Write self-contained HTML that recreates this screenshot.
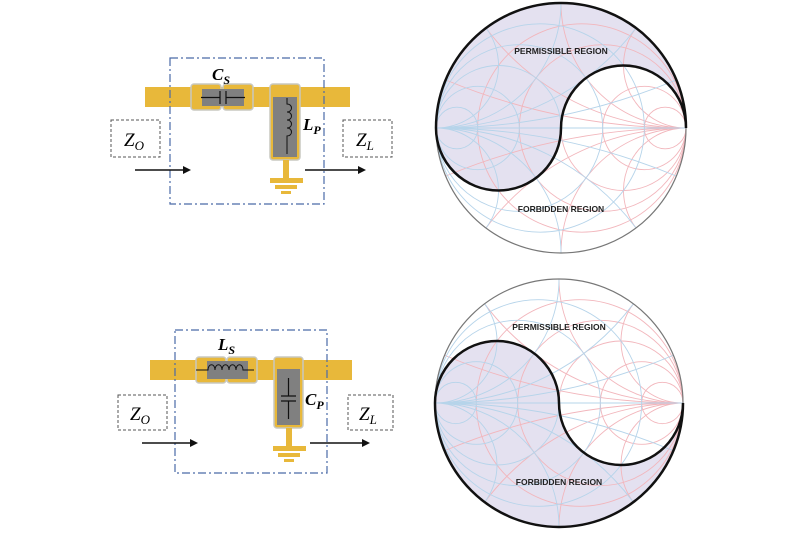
<!DOCTYPE html>
<html><head><meta charset="utf-8"><style>
html,body{margin:0;padding:0;background:#fff;width:800px;height:533px;overflow:hidden}
svg{display:block}
text{font-family:"Liberation Serif",serif}
</style></head><body>
<svg width="800" height="533" viewBox="0 0 800 533" xmlns="http://www.w3.org/2000/svg" style="overflow:hidden">
<defs>
<g id="half" fill="none">
  <circle cx="0.1667" cy="0" r="0.8333" vector-effect="non-scaling-stroke"/>
  <circle cx="0.3333" cy="0" r="0.6667" vector-effect="non-scaling-stroke"/>
  <circle cx="0.5" cy="0" r="0.5" vector-effect="non-scaling-stroke"/>
  <circle cx="0.6667" cy="0" r="0.3333" vector-effect="non-scaling-stroke"/>
  <circle cx="0.8333" cy="0" r="0.1667" vector-effect="non-scaling-stroke"/>
  <path vector-effect="non-scaling-stroke" d="M1,0 A5,5 0 0 1 -0.923,-0.385 M1,0 A5,5 0 0 0 -0.923,0.385 M1,0 A2,2 0 0 1 -0.6,-0.8 M1,0 A2,2 0 0 0 -0.6,0.8 M1,0 A1,1 0 0 1 0,-1 M1,0 A1,1 0 0 0 0,1 M1,0 A0.5,0.5 0 0 1 0.6,-0.8 M1,0 A0.5,0.5 0 0 0 0.6,0.8 M-1,0 H1"/>
</g>
<g id="grid">
  <use href="#half" stroke="#f2b6bc" stroke-width="0.9"/>
  <g transform="scale(-1,1)"><use href="#half" stroke="#b6d4ea" stroke-width="0.9"/></g>
</g>
</defs>

<path d="M436,128 A125,125 0 0 1 686,128 A62.5,62.5 0 0 0 561,128 A62.5,62.5 0 0 1 436,128 Z" fill="#e4e1f0"/>
<g transform="translate(561,128) scale(125)"><use href="#grid"/></g>
<circle cx="561" cy="128" r="125" fill="none" stroke="#777" stroke-width="1.2"/>
<path d="M436,128 A125,125 0 0 1 686,128 A62.5,62.5 0 0 0 561,128 A62.5,62.5 0 0 1 436,128 Z" fill="none" stroke="#111" stroke-width="2.5"/>
<text x="561" y="54" font-size="8.5" font-weight="bold" text-anchor="middle" fill="#222" style="font-family:'Liberation Sans',sans-serif">PERMISSIBLE REGION</text>
<text x="561" y="212" font-size="8.5" font-weight="bold" text-anchor="middle" fill="#222" style="font-family:'Liberation Sans',sans-serif">FORBIDDEN REGION</text>

<path d="M435,403 A62,62 0 0 1 559,403 A62,62 0 0 0 683,403 A124,124 0 0 1 435,403 Z" fill="#e4e1f0"/>
<g transform="translate(559,403) scale(124)"><use href="#grid"/></g>
<circle cx="559" cy="403" r="124" fill="none" stroke="#777" stroke-width="1.2"/>
<path d="M435,403 A62,62 0 0 1 559,403 A62,62 0 0 0 683,403 A124,124 0 0 1 435,403 Z" fill="none" stroke="#111" stroke-width="2.5"/>
<text x="559" y="330" font-size="8.5" font-weight="bold" text-anchor="middle" fill="#222" style="font-family:'Liberation Sans',sans-serif">PERMISSIBLE REGION</text>
<text x="559" y="485" font-size="8.5" font-weight="bold" text-anchor="middle" fill="#222" style="font-family:'Liberation Sans',sans-serif">FORBIDDEN REGION</text>

<rect x="145" y="87" width="205" height="20" fill="#e8b83a"/>
<rect x="191" y="84" width="30" height="26" rx="3" fill="#e8b83a" stroke="#c8c8c0" stroke-width="1.5"/>
<rect x="223" y="84" width="30" height="26" rx="3" fill="#e8b83a" stroke="#c8c8c0" stroke-width="1.5"/>
<rect x="202" y="89" width="42" height="17" fill="#808080"/>
<path d="M201,97.5 H220 M220,91 V104 M226,91 V104 M226,97.5 H245" stroke="#111" stroke-width="1.2" fill="none"/>
<rect x="270" y="84" width="30" height="76" rx="3" fill="#e8b83a" stroke="#c8c8c0" stroke-width="1.5"/>
<rect x="273" y="97" width="24" height="60" fill="#808080"/>
<path d="M287,98 V104 c6,0 6,8 0,8 c6,0 6,8 0,8 c6,0 6,8 0,8 c6,0 6,8 0,8 V154" stroke="#111" stroke-width="1" fill="none"/>
<rect x="283" y="160" width="6" height="18" fill="#e8b83a"/>
<rect x="270" y="178" width="33" height="5" fill="#e8b83a"/>
<rect x="275" y="185" width="22" height="4" fill="#e8b83a"/>
<rect x="281" y="191" width="10" height="3" fill="#e8b83a"/>
<rect x="170" y="58" width="154" height="146" fill="none" stroke="#4a6aa8" stroke-width="1.2" stroke-dasharray="8,3,2,3"/>
<rect x="111" y="120" width="49" height="37" fill="none" stroke="#555" stroke-width="1" stroke-dasharray="3,2"/>
<rect x="343" y="120" width="49" height="37" fill="none" stroke="#555" stroke-width="1" stroke-dasharray="3,2"/>
<text x="124" y="146" font-size="19" font-style="italic">Z<tspan font-size="13" dy="4">O</tspan></text>
<text x="356" y="146" font-size="19" font-style="italic">Z<tspan font-size="13" dy="4">L</tspan></text>
<text x="212" y="80" font-size="17" font-weight="bold" font-style="italic">C<tspan font-size="12" dy="4">S</tspan></text>
<text x="303" y="130" font-size="17" font-weight="bold" font-style="italic">L<tspan font-size="12" dy="4">P</tspan></text>
<path d="M135,170 H184" stroke="#111" stroke-width="1.5"/><path d="M191,170 l-8,-4 v8 z" fill="#111"/>
<path d="M305,170 H358" stroke="#111" stroke-width="1.5"/><path d="M366,170 l-8,-4 v8 z" fill="#111"/>

<rect x="150" y="360" width="202" height="20" fill="#e8b83a"/>
<rect x="196" y="357" width="30" height="26" rx="3" fill="#e8b83a" stroke="#c8c8c0" stroke-width="1.5"/>
<rect x="227" y="357" width="30" height="26" rx="3" fill="#e8b83a" stroke="#c8c8c0" stroke-width="1.5"/>
<rect x="207" y="361" width="41" height="18" fill="#808080"/>
<path d="M196,370 H208 c0,-7 7,-7 7,0 c0,-7 7,-7 7,0 c0,-7 7,-7 7,0 c0,-7 7,-7 7,0 c0,-7 7,-7 7,0 H254" stroke="#111" stroke-width="1" fill="none"/>
<rect x="274" y="357" width="29" height="71" rx="3" fill="#e8b83a" stroke="#c8c8c0" stroke-width="1.5"/>
<rect x="277" y="369" width="23" height="56" fill="#808080"/>
<path d="M288.5,378 V396 M281,396 H296 M281,401 H296 M288.5,401 V419" stroke="#111" stroke-width="1.2" fill="none"/>
<rect x="286" y="428" width="6" height="18" fill="#e8b83a"/>
<rect x="273" y="446" width="33" height="5" fill="#e8b83a"/>
<rect x="278" y="453" width="22" height="4" fill="#e8b83a"/>
<rect x="284" y="459" width="10" height="3" fill="#e8b83a"/>
<rect x="175" y="330" width="152" height="143" fill="none" stroke="#4a6aa8" stroke-width="1.2" stroke-dasharray="8,3,2,3"/>
<rect x="118" y="395" width="49" height="35" fill="none" stroke="#555" stroke-width="1" stroke-dasharray="3,2"/>
<rect x="348" y="395" width="45" height="35" fill="none" stroke="#555" stroke-width="1" stroke-dasharray="3,2"/>
<text x="130" y="420" font-size="19" font-style="italic">Z<tspan font-size="13" dy="4">O</tspan></text>
<text x="359" y="420" font-size="19" font-style="italic">Z<tspan font-size="13" dy="4">L</tspan></text>
<text x="218" y="350" font-size="17" font-weight="bold" font-style="italic">L<tspan font-size="12" dy="4">S</tspan></text>
<text x="305" y="405" font-size="17" font-weight="bold" font-style="italic">C<tspan font-size="12" dy="4">P</tspan></text>
<path d="M142,443 H190" stroke="#111" stroke-width="1.5"/><path d="M198,443 l-8,-4 v8 z" fill="#111"/>
<path d="M310,443 H362" stroke="#111" stroke-width="1.5"/><path d="M370,443 l-8,-4 v8 z" fill="#111"/>
</svg>
</body></html>
